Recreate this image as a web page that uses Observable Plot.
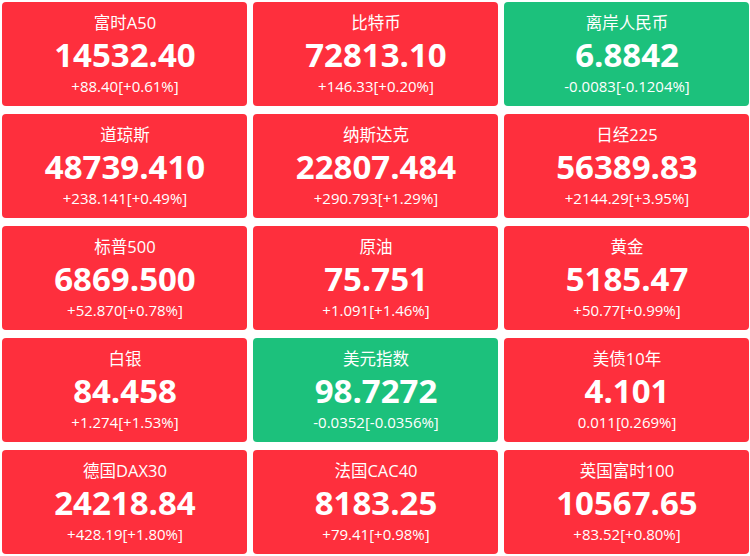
<!DOCTYPE html>
<html><head><meta charset="utf-8">
<script src="https://cdn.jsdelivr.net/npm/d3@7"></script>
<script src="https://cdn.jsdelivr.net/npm/@observablehq/plot@0.6"></script>
<style>
html,body{margin:0;padding:0;background:#fff;}
</style>
</head><body>
<div id="chart"></div>
<script>
const names = ["富时A50","比特币","离岸人民币","道琼斯","纳斯达克","日经225","标普500","原油","黄金","白银","美元指数","美债10年","德国DAX30","法国CAC40","英国富时100"];
const prices = ["14532.40","72813.10","6.8842","48739.410","22807.484","56389.83","6869.500","75.751","5185.47","84.458","98.7272","4.101","24218.84","8183.25","10567.65"];
const changes = ["+88.40","+146.33","-0.0083","+238.141","+290.793","+2144.29","+52.870","+1.091","+50.77","+1.274","-0.0352","0.011","+428.19","+79.41","+83.52"];
const pcts = ["+0.61%","+0.20%","-0.1204%","+0.49%","+1.29%","+3.95%","+0.78%","+1.46%","+0.99%","+1.53%","-0.0356%","0.269%","+1.80%","+0.98%","+0.80%"];

const data = names.map((n, i) => ({
  name: n, price: prices[i], sub: `${changes[i]}[${pcts[i]}]`,
  col: i % 3, row: Math.floor(i / 3),
  dir: changes[i].startsWith("-") ? "down" : "up"
}));

const font = "'Open Sans','Noto Sans CJK SC',sans-serif";
const chart = Plot.plot({
  width: 750, height: 556,
  margin: 0,
  style: {background: "#fff", fontFamily: font},
  x: {type: "band", domain: [0,1,2], range: [2, 749], paddingInner: 0.024, paddingOuter: 0, axis: null},
  y: {type: "band", domain: [0,1,2,3,4], range: [1, 555], paddingInner: 0.0756, paddingOuter: 0, axis: null},
  color: {domain: ["up","down"], range: ["#fe2f3d","#1cc17c"]},
  marks: [
    Plot.cell(data, {x: "col", y: "row", fill: "dir", rx: 4}),
    Plot.text(data, {x: "col", y: "row", text: "name", dy: -30.5, fill: "white", fontSize: 16.5, fontFamily: font}),
    Plot.text(data, {x: "col", y: "row", text: "price", dy: 2, fill: "white", fontSize: 33, fontWeight: "bold", fontFamily: font}),
    Plot.text(data, {x: "col", y: "row", text: "sub", dy: 32.5, fill: "white", fontSize: 15, fontFamily: font})
  ]
});
document.getElementById("chart").appendChild(chart);
</script>
</body></html>
